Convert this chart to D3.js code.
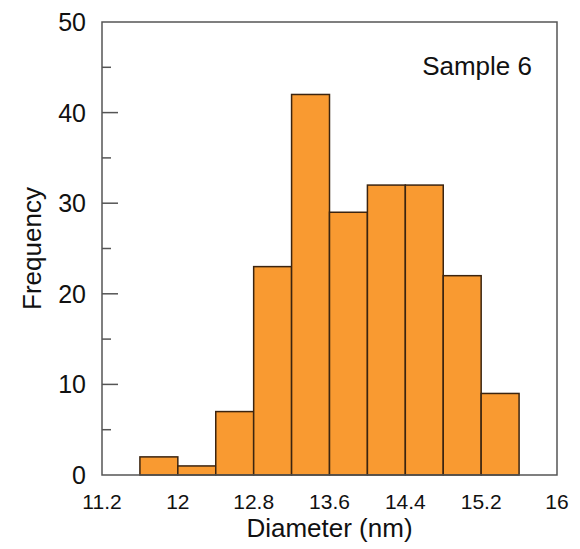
<!doctype html>
<html>
<head>
<script src="https://cdn.jsdelivr.net/npm/d3@7"></script>
<style>
  body { margin: 0; background: #fff; }
  svg { font-family: "Liberation Sans", Arial, sans-serif; }
</style>
</head>
<body>
<svg width="580" height="549"></svg>
<script>
// histogram bins (left edge, nm) and counts
var binStarts = [11.6, 12.0, 12.4, 12.8, 13.2, 13.6, 14.0, 14.4, 14.8, 15.2];
var counts    = [2, 1, 7, 23, 42, 29, 32, 32, 22, 9];
var binWidth = 0.4;
var xTicks = [11.2, 12, 12.8, 13.6, 14.4, 15.2, 16];
var yTicks = [0, 10, 20, 30, 40, 50];
var yMinor = [5, 15, 25, 35, 45];

var svg = d3.select("svg");
// plot frame edges (don't use "top", it clashes with window.top)
var pLeft = 102, pRight = 557, pTop = 22, pBottom = 475;

var x = d3.scaleLinear().domain([11.2, 16]).range([pLeft, pRight]);
var y = d3.scaleLinear().domain([0, 50]).range([pBottom, pTop]);

// bars
svg.selectAll("rect.bar")
  .data(binStarts)
  .enter().append("rect")
  .attr("class", "bar")
  .attr("x", function(d) { return x(d); })
  .attr("width", function(d) { return x(d + binWidth) - x(d); })
  .attr("y", function(d, i) { return y(counts[i]); })
  .attr("height", function(d, i) { return y(0) - y(counts[i]); })
  .attr("fill", "#F99A31")
  .attr("stroke", "#3b2410")
  .attr("stroke-width", 1.5);

// frame
svg.append("rect")
  .attr("x", pLeft).attr("y", pTop)
  .attr("width", pRight - pLeft).attr("height", pBottom - pTop)
  .attr("fill", "none")
  .attr("stroke", "#555")
  .attr("stroke-width", 1.5);

// y ticks, pointing inward
svg.selectAll("line.ymaj")
  .data(yTicks.slice(1, -1))
  .enter().append("line")
  .attr("class", "ymaj")
  .attr("x1", pLeft).attr("x2", pLeft + 16)
  .attr("y1", function(d) { return y(d); })
  .attr("y2", function(d) { return y(d); })
  .attr("stroke", "#555").attr("stroke-width", 1.5);
svg.selectAll("line.ymin")
  .data(yMinor)
  .enter().append("line")
  .attr("class", "ymin")
  .attr("x1", pLeft).attr("x2", pLeft + 9)
  .attr("y1", function(d) { return y(d); })
  .attr("y2", function(d) { return y(d); })
  .attr("stroke", "#555").attr("stroke-width", 1.5);

// tick labels
svg.selectAll("text.ylab")
  .data(yTicks)
  .enter().append("text")
  .attr("class", "ylab")
  .attr("x", 86)
  .attr("y", function(d) { return y(d); })
  .attr("dy", "0.36em")
  .attr("text-anchor", "end")
  .attr("font-size", 25)
  .attr("fill", "#111")
  .text(function(d) { return d; });

svg.selectAll("text.xlab")
  .data(xTicks)
  .enter().append("text")
  .attr("class", "xlab")
  .attr("x", function(d) { return x(d); })
  .attr("y", 509)
  .attr("text-anchor", "middle")
  .attr("font-size", 21)
  .attr("fill", "#111")
  .text(function(d) { return d; });

// axis titles
svg.append("text")
  .attr("x", (pLeft + pRight) / 2)
  .attr("y", 537)
  .attr("text-anchor", "middle")
  .attr("font-size", 26)
  .attr("fill", "#111")
  .text("Diameter (nm)");

svg.append("text")
  .attr("transform", "translate(41," + ((pTop + pBottom) / 2) + ") rotate(-90)")
  .attr("text-anchor", "middle")
  .attr("font-size", 26)
  .attr("fill", "#111")
  .text("Frequency");

svg.append("text")
  .attr("x", 532)
  .attr("y", 75)
  .attr("text-anchor", "end")
  .attr("font-size", 26)
  .attr("fill", "#111")
  .text("Sample 6");
</script>
</body>
</html>
